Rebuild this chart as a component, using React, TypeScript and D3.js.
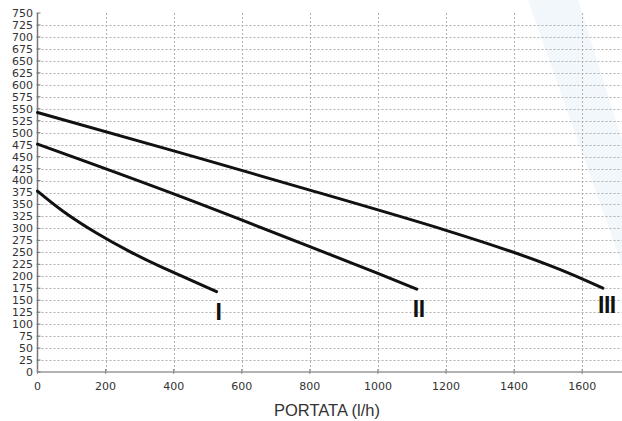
import React, { useEffect, useRef } from "react";
import * as d3 from "d3";

// pump curves: flow (l/h) vs head
const flowI = [0, 75, 172, 270, 368, 526];
const headI = [378, 336, 291, 252, 218, 168];
const flowII = [0, 400, 800, 1000, 1114];
const headII = [476, 372, 262, 206, 173];
const flowIII = [0, 400, 800, 1200, 1500, 1661];
const headIII = [542, 462, 380, 296, 224, 175];
const curveLabels = ["I", "II", "III"];

const xTicks = [0, 200, 400, 600, 800, 1000, 1200, 1400, 1600];
const yTicks = d3.range(0, 751, 25);
const xTitle = "PORTATA (l/h)";

const W = 622;
const H = 421;

export default function App() {
  const ref = useRef<SVGSVGElement>(null);

  useEffect(() => {
    const svg = d3.select(ref.current);
    svg.selectAll("*").remove();

    const x = d3.scaleLinear().domain([0, 1717]).range([37.5, 622]);
    const y = d3.scaleLinear().domain([0, 750]).range([372, 13]);

    // faint watermark band
    svg
      .append("polygon")
      .attr("points", "528,0 578,0 622,140 622,265")
      .attr("fill", "#f2f7fc");

    const grid = svg.append("g").attr("stroke", "#b0b0b0").attr("stroke-width", 1).attr("stroke-dasharray", "2,2");
    grid
      .selectAll("line.h")
      .data(yTicks.filter((d) => d > 0 && d < 750))
      .enter()
      .append("line")
      .attr("x1", x(0))
      .attr("x2", W)
      .attr("y1", (d) => Math.round(y(d)) + 0.5)
      .attr("y2", (d) => Math.round(y(d)) + 0.5);
    grid
      .selectAll("line.v")
      .data(xTicks.filter((d) => d > 0))
      .enter()
      .append("line")
      .attr("y1", y(750))
      .attr("y2", y(0))
      .attr("x1", (d) => Math.round(x(d)) + 0.5)
      .attr("x2", (d) => Math.round(x(d)) + 0.5);

    // axes lines
    svg
      .append("line")
      .attr("x1", x(0))
      .attr("x2", W)
      .attr("y1", y(0))
      .attr("y2", y(0))
      .attr("stroke", "#999")
      .attr("stroke-width", 1.5);
    svg
      .append("line")
      .attr("x1", x(0))
      .attr("x2", x(0))
      .attr("y1", y(750))
      .attr("y2", y(0))
      .attr("stroke", "#777")
      .attr("stroke-width", 1.5);

    // tick marks
    svg
      .selectAll("line.yt")
      .data(yTicks)
      .enter()
      .append("line")
      .attr("x1", x(0) - 1)
      .attr("x2", x(0) + 3)
      .attr("y1", (d) => y(d))
      .attr("y2", (d) => y(d))
      .attr("stroke", "#777");
    svg
      .selectAll("line.xt")
      .data(xTicks)
      .enter()
      .append("line")
      .attr("x1", (d) => x(d))
      .attr("x2", (d) => x(d))
      .attr("y1", y(0) - 3)
      .attr("y2", y(0) + 2)
      .attr("stroke", "#888");

    const font = "'DejaVu Sans', sans-serif";
    svg
      .selectAll("text.yl")
      .data(yTicks)
      .enter()
      .append("text")
      .attr("x", 33)
      .attr("y", (d) => y(d))
      .attr("dy", "0.36em")
      .attr("text-anchor", "end")
      .attr("font-family", font)
      .attr("font-size", 11)
      .attr("fill", "#333")
      .text((d) => d);
    svg
      .selectAll("text.xl")
      .data(xTicks)
      .enter()
      .append("text")
      .attr("x", (d) => x(d))
      .attr("y", 389.5)
      .attr("text-anchor", "middle")
      .attr("font-family", font)
      .attr("font-size", 11)
      .attr("fill", "#333")
      .text((d) => d);

    svg
      .append("text")
      .attr("x", 327)
      .attr("y", 416)
      .attr("text-anchor", "middle")
      .attr("font-family", "'Liberation Sans', Arial, sans-serif")
      .attr("font-size", 16.5)
      .attr("fill", "#333")
      .text(xTitle);

    // curves
    const series = [
      [flowI, headI],
      [flowII, headII],
      [flowIII, headIII],
    ];
    const line = d3
      .line<[number, number]>()
      .x((d) => x(d[0]))
      .y((d) => y(d[1]))
      .curve(d3.curveNatural);

    series.forEach(([fl, hd], i) => {
      const pts = fl.map((f, j) => [f, hd[j]] as [number, number]);
      svg
        .append("path")
        .attr("d", line(pts))
        .attr("fill", "none")
        .attr("stroke", "#111")
        .attr("stroke-width", 3)
        .attr("stroke-linecap", "round");
      const last = pts[pts.length - 1];
      svg
        .append("text")
        .attr("x", x(last[0]) + (i === 2 ? 4 : 2))
        .attr("y", y(last[1]) + (i === 2 ? 25 : 28))
        .attr("text-anchor", "middle")
        .attr("font-family", "'Liberation Sans', Arial, sans-serif")
        .attr("font-weight", "bold")
        .attr("font-size", 23)
        .attr("letter-spacing", -0.5)
        .attr("fill", "#111")
        .text(curveLabels[i]);
    });
  }, []);

  return (
    <svg
      ref={ref}
      width={W}
      height={H}
      style={{ position: "absolute", left: 0, top: 0, background: "#fff" }}
    />
  );
}
